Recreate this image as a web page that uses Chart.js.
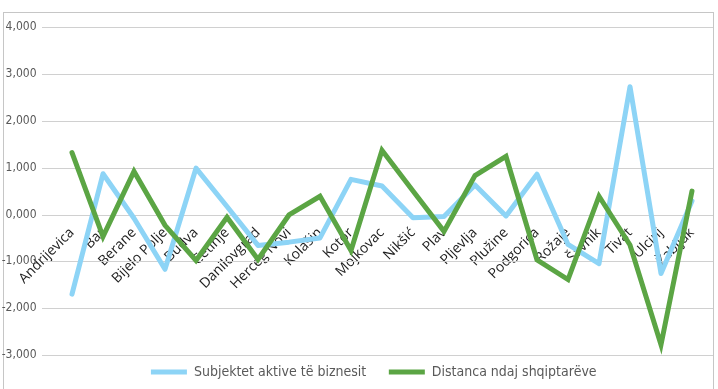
<!DOCTYPE html>
<html>
<head>
<meta charset="utf-8">
<script src="https://cdn.jsdelivr.net/npm/chart.js@4/dist/chart.umd.min.js"></script>
<style>
  html, body { margin: 0; padding: 0; background: #fff; }
  #wrap { position: relative; width: 718px; height: 389px; overflow: hidden; }
  #frame { position: absolute; left: 3px; top: 12px; width: 711px; height: 400px; border: 1px solid #c6c6c6; box-sizing: border-box; }
  canvas { position: absolute; left: 0; top: 0; }
</style>
</head>
<body>
<div id="wrap">
  <div id="frame"></div>
  <canvas id="lineChart" width="718" height="389"></canvas>
</div>
<script>
const municipalities = ['Andrijevica', 'Bar', 'Berane', 'Bijelo Polje', 'Budva', 'Cetinje', 'Danilovgrad',
  'Herceg Novi', 'Kolašin', 'Kotor', 'Mojkovac', 'Nikšić', 'Plav', 'Pljevlja', 'Plužine',
  'Podgorica', 'Rožaje', 'Šavnik', 'Tivat', 'Ulcinj', 'Žabljak'];

const activeBusinesses = [-1.70, 0.87, -0.08, -1.17, 0.99, 0.17, -0.66, -0.59, -0.50, 0.75, 0.61,
  -0.07, -0.04, 0.63, -0.03, 0.86, -0.64, -1.05, 2.73, -1.26, 0.29];

const distanceToAlbanians = [1.32, -0.47, 0.92, -0.23, -0.98, -0.06, -0.96, -0.01, 0.39, -0.77, 1.37,
  0.50, -0.36, 0.83, 1.24, -0.97, -1.39, 0.39, -0.65, -2.78, 0.50];

const yMin = -3;
const yMax = 4;
const yStep = 1;

const colorBlue = '#8dd4f6';
const colorGreen = '#5ba544';
const colorGrid = '#d0d0d0';
const colorMuted = '#595959';
const narrowFont = '"Liberation Sans Narrow", "DejaVu Sans Condensed", sans-serif';

// horizontal gridlines run wider than the plot area, like the original
const wideGrid = {
  id: 'wideGrid',
  afterLayout(chart) {
    // legend sits a bit right of centre in the original
    chart.legend.left += 20;
    chart.legend.right += 20;
  },
  beforeDatasetsDraw(chart) {
    const y = chart.scales.y;
    const ctx = chart.ctx;
    ctx.save();
    ctx.strokeStyle = colorGrid;
    ctx.lineWidth = 1.2;
    y.ticks.forEach(t => {
      const py = Math.round(y.getPixelForValue(t.value)) + 0.5;
      ctx.beginPath();
      ctx.moveTo(42, py);
      ctx.lineTo(713, py);
      ctx.stroke();
    });
    ctx.restore();
  }
};

new Chart(document.getElementById('lineChart'), {
  type: 'line',
  data: {
    labels: municipalities,
    datasets: [
      {
        label: 'Subjektet aktive të biznesit',
        data: activeBusinesses,
        borderColor: colorBlue,
        backgroundColor: colorBlue,
        borderWidth: 5,
        borderJoinStyle: 'round',
        borderCapStyle: 'round',
        pointRadius: 0,
        tension: 0,
        order: 1
      },
      {
        label: 'Distanca ndaj shqiptarëve',
        data: distanceToAlbanians,
        borderColor: colorGreen,
        backgroundColor: colorGreen,
        borderWidth: 5,
        borderJoinStyle: 'miter',
        borderCapStyle: 'round',
        pointRadius: 0,
        tension: 0,
        order: 0
      }
    ]
  },
  options: {
    responsive: false,
    animation: false,
    layout: { padding: { top: 15, right: 10.5, bottom: 0, left: 0 } },
    plugins: {
      legend: {
        position: 'bottom',
        labels: {
          color: colorMuted,
          font: { family: narrowFont, size: 14 },
          usePointStyle: true,
          pointStyle: 'line',
          pointStyleWidth: 36,
          padding: 10,
          sort: (a, b) => a.datasetIndex - b.datasetIndex,
          generateLabels: chart => {
            const items = Chart.defaults.plugins.legend.labels.generateLabels(chart);
            // wider gap between the two entries
            items.forEach(it => { if (it.datasetIndex === 0) it.text += '\u2002\u2002'; });
            return items;
          }
        }
      },
      tooltip: { enabled: false }
    },
    scales: {
      x: {
        position: { y: 0 },
        offset: true,
        grid: { display: false, drawTicks: false },
        border: { display: false },
        ticks: {
          color: '#1e1e1e',
          font: { family: '"Open Sans", sans-serif', size: 14 },
          minRotation: 45,
          maxRotation: 45,
          autoSkip: false,
          padding: 10
        }
      },
      y: {
        min: yMin,
        max: yMax,
        afterFit: s => { s.width = 56.5; },
        grid: { display: false, drawTicks: false },
        border: { display: false },
        ticks: {
          stepSize: yStep,
          color: colorMuted,
          padding: 20,
          font: { family: narrowFont, size: 12 },
          callback: v => v.toFixed(3).replace('.', ',')
        }
      }
    }
  },
  plugins: [wideGrid]
});
</script>
</body>
</html>
